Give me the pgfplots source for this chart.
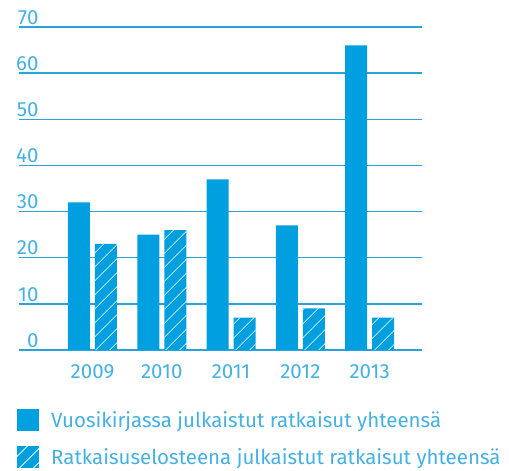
\documentclass[border=0pt]{standalone}
\usepackage{fontspec}
\setmainfont{Fira Sans}
\usepackage{pgfplots}
\pgfplotsset{compat=1.18}
\usetikzlibrary{patterns.meta}
\definecolor{barblue}{HTML}{009FDF}
\definecolor{txtblue}{HTML}{45B0E3}
\definecolor{gridblue}{HTML}{2AA2DB}
\begin{document}
\begin{tikzpicture}[x=1pt,y=1pt]
\useasboundingbox (0,0) rectangle (509,471);
\begin{axis}[
  at={(19pt,121pt)}, anchor=south west,
  scale only axis, width=403pt, height=323pt,
  xmin=-1.06, xmax=4.755, ymin=0, ymax=70,
  axis line style={draw=none},
  major tick length=0pt,
  ymajorgrids, grid style={gridblue, line width=1.5pt},
  ytick={0,10,...,70},
  xtick={0,1,2,3,4}, xticklabels={2009,2010,2011,2012,2013},
  /pgf/number format/assume math mode=true,
  ticklabel style={font=\fontsize{20.5}{24}\selectfont, text=txtblue},
  yticklabel style={anchor=south east, xshift=23pt, yshift=-1pt},
  xticklabel style={anchor=north, yshift=-11pt},
  legend style={at={(-0.005,-0.182)}, anchor=north west, draw=none, fill=none,
    font=\fontsize{20.5}{24}\selectfont, text=txtblue, row sep=15pt, column sep=10pt, inner sep=0pt},
  legend cell align=left,
  legend image code/.code={\path[#1] (0pt,-11pt) rectangle (22pt,11pt);},
]
\addplot[ybar, bar width=22pt, bar shift=-13.5pt, fill=barblue, draw=none]
  coordinates {(0,32) (1,25) (2,37) (3,27) (4,66)};
\addplot[ybar, bar width=22pt, bar shift=13.5pt, fill=barblue, draw=none,
  postaction={pattern={Lines[angle=45, distance=10.5pt, line width=0.9pt]}, pattern color=white}]
  coordinates {(0,23) (1,26) (2,7) (3,9) (4,7)};
\legend{Vuosikirjassa julkaistut ratkaisut yhteensä, Ratkaisuselosteena julkaistut ratkaisut yhteensä}
\end{axis}
\end{tikzpicture}
\end{document}
